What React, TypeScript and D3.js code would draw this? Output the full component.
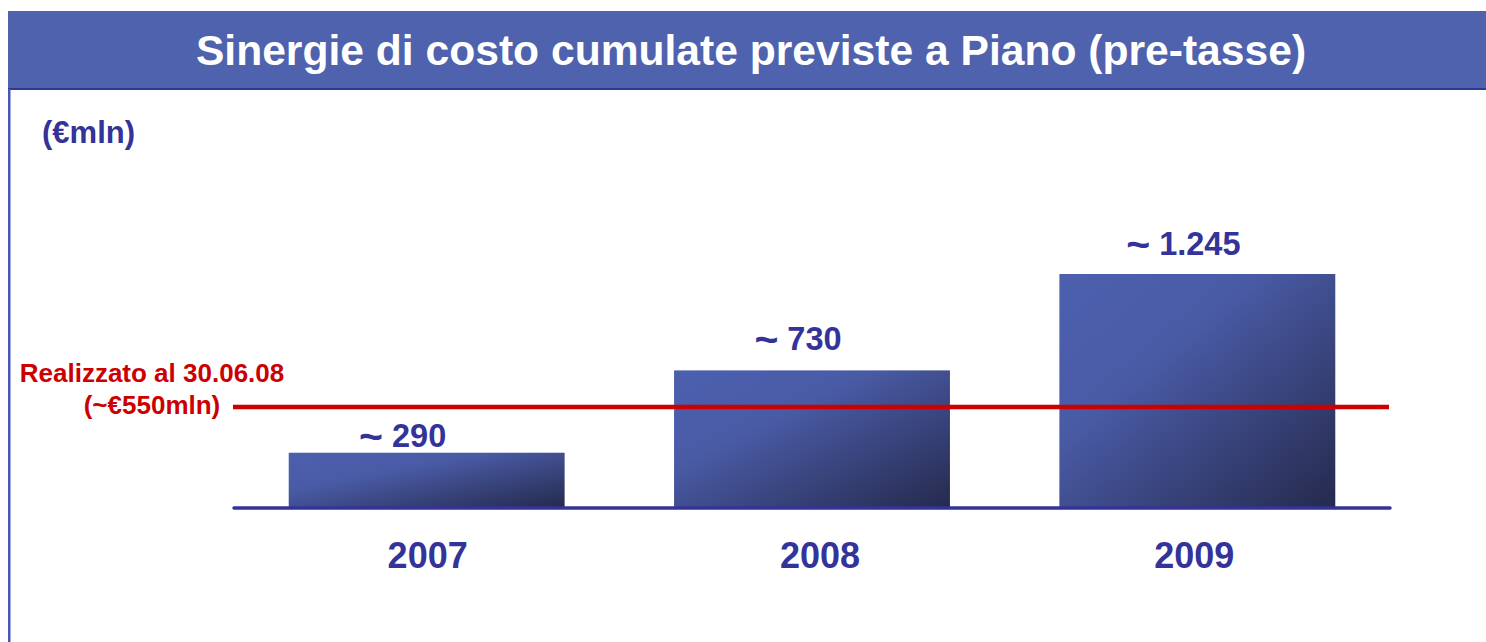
import React from "react";
import * as d3 from "d3";

const years = ["2007", "2008", "2009"];
const values = [290, 730, 1245];
const valueLabels = ["290", "730", "1.245"];
const approxSign = "~";
const realizedValue = 550;
const realizedLines = ["Realizzato al 30.06.08", "(~€550mln)"];
const titleText = "Sinergie di costo cumulate previste a Piano (pre-tasse)";
const unitText = "(€mln)";

const W = 1486;
const H = 642;
const FONT = "Liberation Sans, Arial, Helvetica, sans-serif";
const BLUE = "#333399";
const RED = "#cc0000";

export default function App() {
  const axisLeft = 234;
  const axisRight = 1390;
  const baseline = 507;
  const x = d3
    .scaleBand<string>()
    .domain(years)
    .range([axisLeft, axisRight])
    .paddingInner(0.284)
    .paddingOuter(0.142);
  const y = d3
    .scaleLinear()
    .domain([0, d3.max(values) as number])
    .range([baseline, 274]);

  const labelDy = [-6, -20, -19];
  const labelDx = [-24, -14, -14];
  const yearDx = [1, 8, -3];

  return (
    <svg
      width={W}
      height={H}
      style={{ position: "absolute", left: 0, top: 0, background: "#fff" }}
      fontFamily={FONT}
    >
      <defs>
        <linearGradient id="barGrad" x1="0" y1="0" x2="1" y2="1">
          <stop offset="0" stopColor="#4c60ae" />
          <stop offset="0.35" stopColor="#4a5ba6" />
          <stop offset="1" stopColor="#252a4d" />
        </linearGradient>
      </defs>

      {/* header */}
      <rect x={8} y={11} width={W - 8} height={78} fill="#4f62ad" />
      <rect x={8} y={88} width={W - 8} height={2} fill="#2e3992" />
      <rect x={8} y={89} width={2.5} height={H - 89} fill="#4a56b6" />
      <text
        x={751}
        y={65}
        textAnchor="middle"
        fill="#fff"
        fontWeight="bold"
        fontSize={42.6}
      >
        {titleText}
      </text>

      <text x={42} y={143} fill={BLUE} fontWeight="bold" fontSize={31}>
        {unitText}
      </text>

      {/* bars */}
      {years.map((yr, i) => (
        <rect
          key={yr}
          x={x(yr)}
          y={y(values[i])}
          width={x.bandwidth()}
          height={baseline - y(values[i])}
          fill="url(#barGrad)"
        />
      ))}

      {/* axis line */}
      <line
        x1={axisLeft}
        x2={axisRight}
        y1={baseline + 1}
        y2={baseline + 1}
        stroke={BLUE}
        strokeWidth={3.5}
        strokeLinecap="round"
      />

      {/* realized line */}
      <line
        x1={axisLeft - 1}
        x2={axisRight - 1}
        y1={y(realizedValue) + 3}
        y2={y(realizedValue) + 3}
        stroke={RED}
        strokeWidth={4.5}
      />
      <text
        x={152}
        y={382}
        textAnchor="middle"
        fill={RED}
        fontWeight="bold"
        fontSize={26}
      >
        {realizedLines[0]}
      </text>
      <text
        x={152}
        y={414}
        textAnchor="middle"
        fill={RED}
        fontWeight="bold"
        fontSize={26}
      >
        {realizedLines[1]}
      </text>

      {/* value labels */}
      {years.map((yr, i) => (
        <text
          key={"v" + yr}
          x={(x(yr) as number) + x.bandwidth() / 2 + labelDx[i]}
          y={y(values[i]) + labelDy[i]}
          textAnchor="middle"
          fill={BLUE}
          fontWeight="bold"
          fontSize={32.5}
        >
          <tspan fontSize={41} dy={3}>{approxSign}</tspan>
          <tspan dy={-3}>{" " + valueLabels[i]}</tspan>
        </text>
      ))}

      {/* year labels */}
      {years.map((yr, i) => (
        <text
          key={"y" + yr}
          x={(x(yr) as number) + x.bandwidth() / 2 + yearDx[i]}
          y={568}
          textAnchor="middle"
          fill={BLUE}
          fontWeight="bold"
          fontSize={36}
        >
          {yr}
        </text>
      ))}
    </svg>
  );
}
